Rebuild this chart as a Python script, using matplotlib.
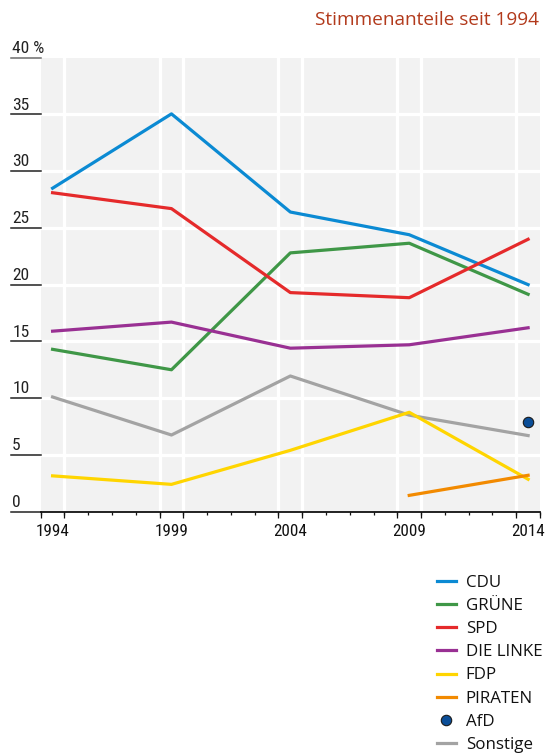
import numpy as np
import matplotlib
matplotlib.use("Agg")
import matplotlib.pyplot as plt
from matplotlib.lines import Line2D
from matplotlib import font_manager as fm

# ---------------- data ----------------
years = [1994, 1999, 2004, 2009, 2014]
cdu = [28.5, 35.05, 26.4, 24.4, 20.0]
spd = [28.1, 26.7, 19.3, 18.85, 24.0]
gruene = [14.3, 12.5, 22.8, 23.65, 19.15]
linke = [15.9, 16.7, 14.4, 14.7, 16.2]
fdp = [3.15, 2.4, 5.4, 8.75, 2.85]
sonstige = [10.1, 6.75, 11.95, 8.5, 6.7]
piraten_years = [2009, 2014]
piraten = [1.43, 3.2]
afd_years = [2014]
afd = [7.9]

series_names = ["CDU", "GRÜNE", "SPD", "DIE LINKE", "FDP", "PIRATEN", "AfD", "Sonstige"]
yticks = [0, 5, 10, 15, 20, 25, 30, 35, 40]
ytick_labels = ["0", "5", "10", "15", "20", "25", "30", "35", "40 %"]
grid_x = [1995, 1999, 2000, 2004, 2005, 2009, 2010, 2014]
long_ticks = [1994, 1995, 1999, 2000, 2004, 2005, 2009, 2010, 2014, 2015]
title = "Stimmenanteile seit 1994"

colors = {
    "CDU": "#0B8AD3",
    "GRÜNE": "#3F9747",
    "SPD": "#E52A2B",
    "DIE LINKE": "#993093",
    "FDP": "#FFD500",
    "PIRATEN": "#F28A00",
    "AfD": "#0B4E98",
    "Sonstige": "#A3A3A3",
}

# ---------------- fonts ----------------
avail = {f.name for f in fm.fontManager.ttflist}
narrow_name = None
for cand in ["Liberation Sans Narrow", "Roboto Condensed", "DejaVu Sans Condensed",
             "Open Sans Condensed", "Noto Sans Condensed", "Arial Narrow"]:
    if cand in avail:
        narrow_name = cand
        break
condensed_faces = [f for f in fm.fontManager.ttflist
                   if f.name in ("Noto Sans", "Open Sans", "Roboto", "DejaVu Sans")
                   and f.stretch in ("condensed", "semi-condensed", "extra-condensed")]
if narrow_name is not None:
    narrow = {"family": [narrow_name, "DejaVu Sans"]}
    nscale = 1.0
elif condensed_faces:
    narrow = {"family": [condensed_faces[0].name, "DejaVu Sans"], "fontstretch": condensed_faces[0].stretch}
    nscale = 1.0
else:
    narrow = {"family": ["Roboto", "DejaVu Sans"]}
    nscale = 0.93
sans = ["Open Sans", "DejaVu Sans"]

DPI = 100
W, H = 545, 756
fig = plt.figure(figsize=(W / DPI, H / DPI), dpi=DPI)
fig.patch.set_facecolor("white")

left, right, top, bottom = 40.7, 540.0, 57.7, 511.6
ax = fig.add_axes([left / W, 1 - bottom / H, (right - left) / W, (bottom - top) / H])
ax.set_facecolor("#F2F2F2")
ax.set_xlim(1994, 2015)
ax.set_ylim(0, 40)

# grid
for gy in yticks[1:-1]:
    ax.axhline(gy, color="white", lw=2.3, zorder=1)
for gx in grid_x:
    ax.axvline(gx, color="white", lw=2.3, zorder=1)

lw = 2.3
xs = np.array(years) + 0.5
ax.plot(xs, cdu, color=colors["CDU"], lw=lw, zorder=3)
ax.plot(xs, gruene, color=colors["GRÜNE"], lw=lw, zorder=3)
ax.plot(xs, spd, color=colors["SPD"], lw=lw, zorder=3)
ax.plot(xs, linke, color=colors["DIE LINKE"], lw=lw, zorder=3)
ax.plot(xs, sonstige, color=colors["Sonstige"], lw=lw, zorder=3)
ax.plot(xs, fdp, color=colors["FDP"], lw=lw, zorder=3)
ax.plot(np.array(piraten_years) + 0.5, piraten, color=colors["PIRATEN"], lw=lw, zorder=3)
ax.plot(np.array(afd_years) + 0.5, afd, "o", ms=7.5, mfc=colors["AfD"], mec="#1a1a1a", mew=0.8, zorder=4)

# spines
for s in ["top", "right", "left"]:
    ax.spines[s].set_visible(False)
ax.spines["bottom"].set_linewidth(1.3)
ax.spines["bottom"].set_color("#111111")
ax.spines["bottom"].set_zorder(5)

# y axis: labels with underline strokes to the left
ax.set_yticks([])
ytr = ax.get_yaxis_transform()
for v, lab in zip(yticks, ytick_labels):
    col = "#6e6e6e" if v == 40 else "#222222"
    ax.plot([-0.06, 0], [v, v], transform=ytr, color=col, lw=1.1, clip_on=False, zorder=5)
    ax.annotate(lab, xy=(-0.057, v), xycoords=ytr, xytext=(0, 3.4), textcoords="offset points",
                ha="left", va="baseline", fontsize=12.6 * nscale, color="#222222",
                annotation_clip=False, **narrow)

# x axis ticks
ax.set_xticks(np.arange(1994, 2016), minor=True)
ax.set_xticks([])
ax.tick_params(axis="x", which="minor", length=2.0, width=0.9, color="#111111", direction="out")
sec = ax.secondary_xaxis("bottom")
sec.set_xticks(long_ticks)
sec.set_xticklabels([])
sec.tick_params(axis="x", length=4.2, width=0.9, color="#111111", direction="out")
sec.spines["bottom"].set_visible(False)

xtr = ax.get_xaxis_transform()
for yv in years:
    ax.annotate(str(yv), xy=(yv + 0.5, 0), xycoords=xtr, xytext=(0, -17.9), textcoords="offset points",
                ha="center", va="baseline", fontsize=12.3 * nscale, color="#111111",
                annotation_clip=False, **narrow)

# title
fig.text(539 / W, 1 - 20 / H, title, ha="right", va="center", fontsize=13.7,
         family=sans, color="#B23A1C")

# legend
handles = []
for n in series_names:
    if n == "AfD":
        handles.append(Line2D([], [], ls="none", marker="o", ms=7.5, mfc=colors[n], mec="#1a1a1a", mew=0.8))
    else:
        handles.append(Line2D([], [], color=colors[n], lw=lw))
leg = fig.legend(handles, series_names, loc="upper left", bbox_to_anchor=(437 / W, 1 - 575 / H),
                 frameon=False, prop={"family": sans, "size": 12.2}, handlelength=1.1,
                 handletextpad=0.6, labelspacing=0.42, borderpad=0, borderaxespad=0)
for t in leg.get_texts():
    t.set_color("#111111")

fig.savefig("out.png", dpi=DPI)
